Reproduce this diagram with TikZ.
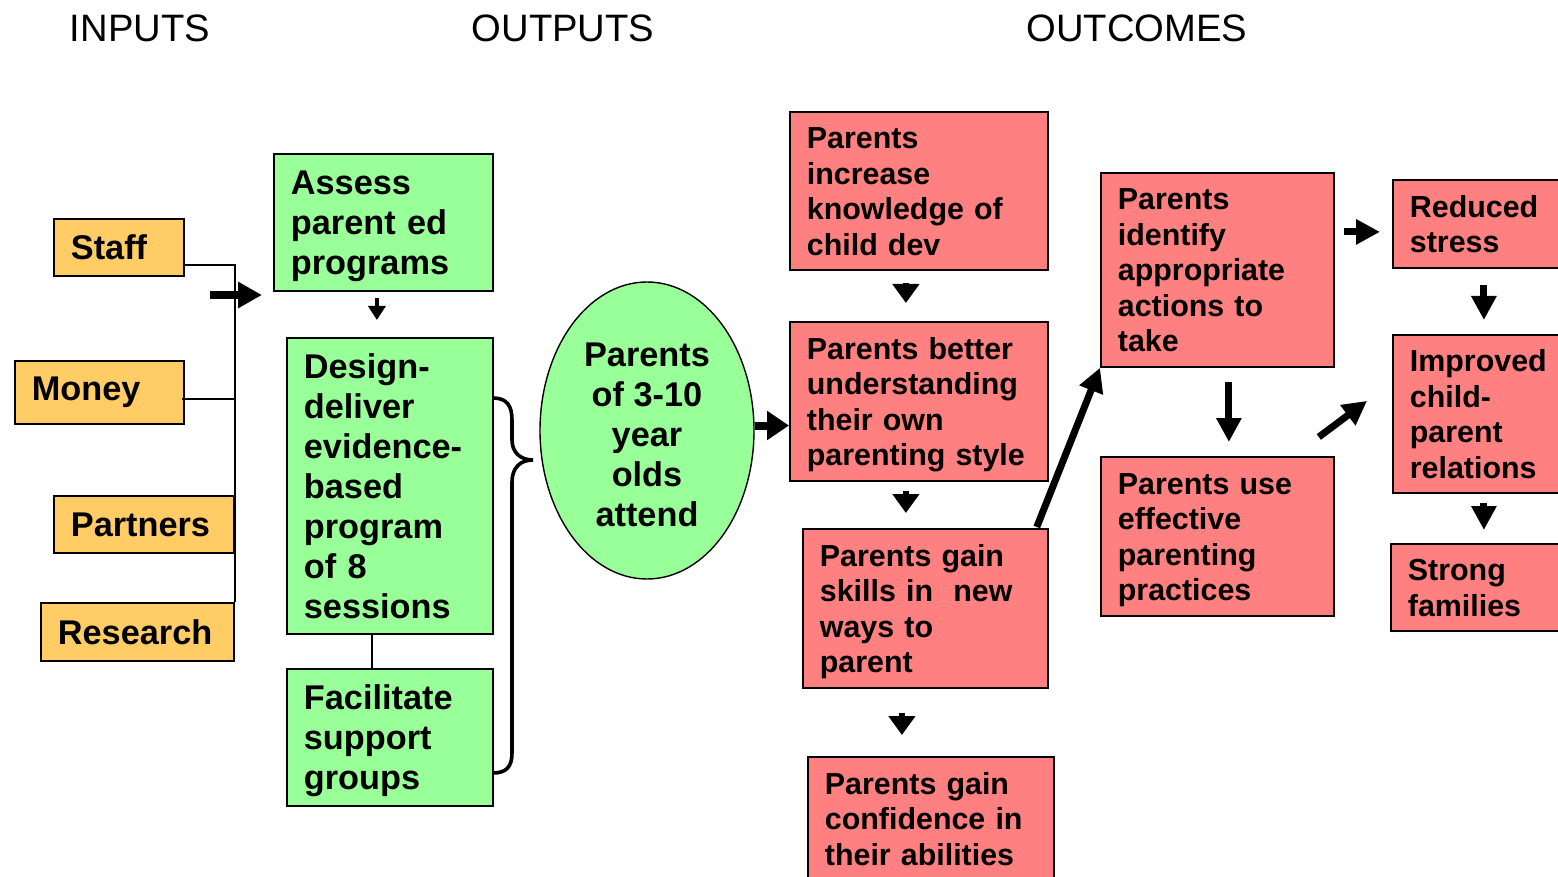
\documentclass[tikz,border=0pt]{standalone}
\usepackage{fontspec}
\setmainfont{Liberation Sans}
\usetikzlibrary{arrows.meta,shapes.geometric}
\definecolor{gfill}{HTML}{99FF99}
\definecolor{rfill}{HTML}{FF8080}
\definecolor{ofill}{HTML}{FFCC66}
\begin{document}
\begin{tikzpicture}[x=0.5pt,y=-0.5pt,
  box/.style={draw=black,line width=0.9pt,anchor=north west,inner xsep=8.5pt,inner ysep=0pt,align=left,font=\bfseries\fontsize{17.15}{20}\selectfont},
  gbox/.style={box,fill=gfill,execute at begin node={\rule{0pt}{16pt}},execute at end node={\rule[-3.7pt]{0pt}{3.7pt}}},
  obox/.style={box,fill=ofill},
  rbox/.style={box,fill=rfill,font=\bfseries\fontsize{15.2}{17.75}\selectfont,execute at begin node={\rule{0pt}{14.2pt}},execute at end node={\rule[-3.3pt]{0pt}{3.3pt}}},
  ttl/.style={font=\fontsize{19.1}{22}\selectfont,inner sep=0pt},
  conn/.style={line width=1pt},
  bigarr/.style={line width=4pt,-{Triangle[length=12pt,width=12.5pt]}},
  sarr/.style={line width=2.2pt,-{Triangle[length=7pt,width=8.5pt]}},
  tarr/.style={line width=3pt,-{Triangle[length=9.5pt,width=13pt]}},
  marr/.style={line width=3.5pt,-{Triangle[length=12pt,width=12pt]}},
  earr/.style={line width=4pt,-{Triangle[length=11pt,width=14pt]}},
  brace/.style={line width=1.8pt}
]
\useasboundingbox (0,0) rectangle (1558,877);

% titles
\node[ttl] (tin) at (140,28) {INPUTS};
\node[ttl] (tout) at (563,28) {OUTPUTS};
\node[ttl] (tres) at (1137,28) {OUTCOMES};

% inputs
\node[obox,text width=48pt,minimum height=28.5pt] (staff) at (53,218) {Staff};
\node[obox,text width=67.5pt,minimum height=31.5pt] (money) at (14,360) {Money};
\node[obox,text width=73pt,minimum height=28.5pt] (partners) at (53,495) {Partners};
\node[obox,text width=79.5pt,minimum height=29pt] (research) at (40,602) {Research};

% outputs
\node[gbox,text width=92.5pt,minimum height=68.5pt] (assess) at (273,153) {Assess\\parent ed\\programs};
\node[gbox,text width=86pt,minimum height=148pt] (design) at (286,337) {Design-\\deliver\\evidence-\\based\\program\\of 8\\sessions};
\node[gbox,text width=86pt,minimum height=68.5pt] (facil) at (286,668) {Facilitate\\support\\groups};

\node[ellipse,draw=black,line width=0.7pt,fill=gfill,minimum width=107pt,minimum height=148.5pt,inner sep=0pt,align=center,font=\bfseries\fontsize{17.15}{20}\selectfont] (ell) at (647,430.5) {\rule{0pt}{16pt}Parents\\of 3-10\\year\\olds\\attend};

% outcomes
\node[rbox,text width=112pt,minimum height=79pt] (r1) at (789,111) {Parents\\increase\\knowledge of\\child dev};
\node[rbox,text width=112pt,minimum height=79.5pt] (r2) at (789,321) {Parents better\\understanding\\their own\\parenting style};
\node[rbox,text width=105.5pt,minimum height=79.5pt] (r3) at (802,528) {Parents gain\\skills in~ new\\ways to\\parent};
\node[rbox,text width=106pt,minimum height=62pt] (r4) at (807,756) {Parents gain\\confidence in\\their abilities};
\node[rbox,text width=99.5pt,minimum height=97pt] (r5) at (1100,172) {Parents\\identify\\appropriate\\actions to\\take};
\node[rbox,text width=99.5pt,minimum height=79.5pt] (r6) at (1100,456) {Parents use\\effective\\parenting\\practices};
\node[rbox,text width=74pt,minimum height=44pt] (red) at (1392,179) {Reduced\\stress};
\node[rbox,text width=74pt,minimum height=79pt] (imp) at (1392,334) {Improved\\child-\\parent\\relations};
\node[rbox,text width=75pt,minimum height=43.5pt] (strong) at (1390,543) {Strong\\families};

% input bus
\draw[conn] ([yshift=-8.75pt]staff.east) -| (research.north east);
\draw[conn] ([xshift=-1.5pt,yshift=-3.25pt]money.east) -- ([yshift=-3.25pt]money.east -| research.east);

% big input arrow
\coordinate (inarr) at (210,295);
\draw[bigarr,shorten >=5.5pt] (inarr) -- (inarr -| assess.west);

% outputs connectors
\draw[sarr,shorten <=3pt,shorten >=8.5pt] ([xshift=-3.25pt]assess.south) -- ([xshift=-3.25pt]assess.south |- design.north);
\draw[conn] ([xshift=-9pt]design.south) -- ([xshift=-9pt]design.south |- facil.north);

% brace
\draw[brace] (493,398) .. controls (507,398) and (512,406) .. (512,420) -- (512,440)
  .. controls (512,452) and (520,460) .. (533,460)
  .. controls (520,460) and (512,468) .. (512,482) -- (512,753)
  .. controls (512,767) and (506,773) .. (493,773);

% ellipse to outcomes
\draw[earr] ([yshift=2.5pt]ell.east) -- ([yshift=2.5pt]ell.east -| r2.west);

% outcome arrows
\draw[tarr,shorten <=6pt,shorten >=9pt] ([xshift=-6.5pt]r1.south) -- ([xshift=-6.5pt]r1.south |- r2.north);
\draw[tarr,shorten <=4.5pt,shorten >=7.5pt] ([xshift=-6.5pt]r2.south) -- ([xshift=-6.5pt]r2.south |- r3.north);
\draw[tarr,shorten <=12pt,shorten >=10.5pt] ([xshift=-11.75pt]r3.south) -- ([xshift=-11.75pt]r3.south |- r4.north);
\draw[marr] ([xshift=-6pt,yshift=0.5pt]r3.north east) -- (r5.south west);
\draw[marr,shorten <=7pt,shorten >=7pt] ([xshift=5.75pt]r5.south) -- ([xshift=5.75pt]r5.south |- r6.north);
\draw[marr] ([shift={(-8pt,9.5pt)}]r6.north east) -- ([shift={(-12.5pt,6.5pt)}]imp.west);
\coordinate (rsw) at ([yshift=-4pt]red.west);
\draw[marr,shorten <=4.5pt,shorten >=6pt] (rsw -| r5.east) -- (rsw);
\draw[marr,shorten <=8pt,shorten >=7pt] (red.south) -- (imp.north);
\draw[marr,shorten <=4.5pt,shorten >=6.5pt] (imp.south) -- (imp.south |- strong.north);
\end{tikzpicture}
\end{document}
